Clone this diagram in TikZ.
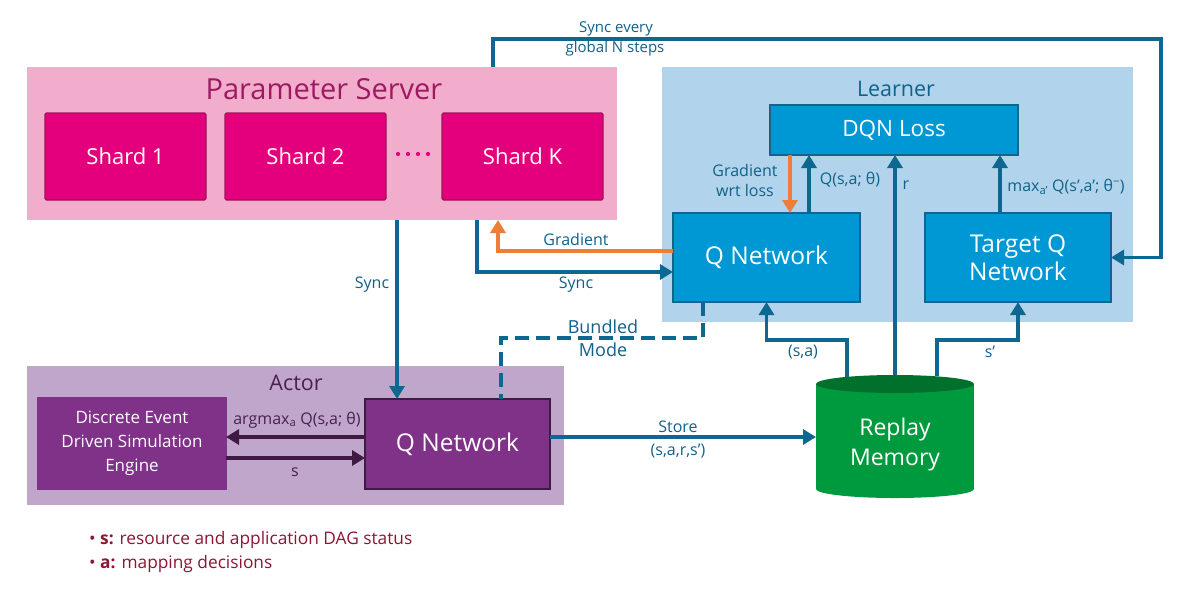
\documentclass[tikz,border=0pt]{standalone}
\usepackage{fontspec}
\setmainfont{Open Sans}
\usetikzlibrary{arrows.meta}
\definecolor{psbg}{RGB}{242,173,205}
\definecolor{shard}{RGB}{228,0,124}
\definecolor{sharddk}{RGB}{160,20,90}
\definecolor{pstitle}{RGB}{158,26,96}
\definecolor{lbg}{RGB}{178,211,236}
\definecolor{lbox}{RGB}{0,152,212}
\definecolor{lboxdk}{RGB}{20,100,140}
\definecolor{arrowteal}{RGB}{12,104,145}
\definecolor{ltitle}{RGB}{16,98,138}
\definecolor{orng}{RGB}{238,125,55}
\definecolor{abg}{RGB}{193,166,204}
\definecolor{abox}{RGB}{127,50,135}
\definecolor{aboxdk}{RGB}{62,26,68}
\definecolor{atitle}{RGB}{74,32,80}
\definecolor{grn}{RGB}{0,154,62}
\definecolor{grndk}{RGB}{0,112,44}
\definecolor{legred}{RGB}{140,22,52}
\newcommand\myfs[2]{\fontsize{#1}{#2}\selectfont}
\begin{document}
\begin{tikzpicture}[x=1pt,y=-1pt,
  grp/.style={inner sep=0, outer sep=0, draw=none},
  ibox/.style={inner sep=0, outer sep=0, line width=1.2pt, text=white, align=center},
  shardbox/.style={ibox, fill=shard, draw=sharddk, rounded corners=1.5pt, minimum width=161, minimum height=87, font=\myfs{22}{26}},
  lbbox/.style={ibox, fill=lbox, draw=lboxdk, font=\myfs{24.5}{28}},
  arr/.style={line width=3.5pt, draw=arrowteal, -{Triangle[length=13pt,width=15pt]}},
  oarr/.style={arr, draw=orng},
  parr/.style={line width=3.8pt, draw=aboxdk, -{Triangle[length=13pt,width=15pt]}},
  lbl/.style={text=ltitle, inner sep=0, font=\myfs{16}{20}, align=center},
  legtxt/.style={text=legred, inner sep=0, font=\myfs{17.3}{20}, anchor=base west}
]
\fill[white] (0,0) rectangle (1182,590);
\useasboundingbox (0,0) rectangle (1182,590);

% groups
\node[grp, fill=psbg, minimum width=590, minimum height=153] (ps) at (322,143.5) {};
\node[text=pstitle, font=\myfs{29}{33}, inner sep=0] (pst) at (324,89) {Parameter Server};
\node[grp, fill=lbg, minimum width=471, minimum height=255] (lg) at (897.5,194.5) {};
\node[text=ltitle, font=\myfs{21.5}{26}, inner sep=0] (lgt) at (896,89) {Learner};
\node[grp, fill=abg, minimum width=537, minimum height=139] (ag) at (295.5,435.5) {};
\node[text=atitle, font=\myfs{21.5}{26}, inner sep=0] (agt) at (296,383) {Actor};

% shards
\node[shardbox] (s1) at (125.5,156.5) {Shard 1};
\node[shardbox] (s2) at (305.5,156.5) {Shard 2};
\node[shardbox] (sk) at (522.5,156.5) {Shard K};
\foreach \dx in {398,408,418,428} \fill[shard] (\dx,154) circle (2.1);

% learner boxes
\node[lbbox, font=\myfs{22.5}{26}, minimum width=248, minimum height=50] (dqn) at (894,130) {DQN Loss};
\node[lbbox, minimum width=187, minimum height=89] (lq) at (766.5,257.5) {Q Network};
\node[lbbox, minimum width=186, minimum height=89] (tq) at (1018,257.5) {Target Q\\Network};

% actor boxes
\node[ibox, fill=abox, draw=abox, minimum width=188, minimum height=91, font=\myfs{17}{24}] (des) at (132,443.5) {Discrete Event\\Driven Simulation\\Engine};
\node[ibox, fill=abox, draw=aboxdk, line width=2pt, minimum width=185, minimum height=90, font=\myfs{24.5}{28}] (aq) at (457.5,444) {Q Network};

% replay memory cylinder
\node[grp, minimum width=158, minimum height=123] (rm) at (895,436.5) {};
\fill[grn] (816,384) rectangle (974,489);
\fill[grn] (895,489) ellipse [x radius=79, y radius=9];
\fill[grndk] (895,384) ellipse [x radius=79, y radius=9];
\node[ibox, font=\myfs{23}{30}] (rmt) at (895,445) {Replay\\Memory};

% routing coordinates
\coordinate (xa) at (397,0);
\coordinate (xb) at (477,0);
\coordinate (xc) at (498,0);
\coordinate (xd) at (493,0);
\coordinate (xe) at (790,0);
\coordinate (xf) at (809,0);
\coordinate (xg) at (895,0);
\coordinate (xh) at (1000,0);
\coordinate (xi) at (847,0);
\coordinate (xj) at (937,0);
\coordinate (xk) at (703,0);
\coordinate (xl) at (501,0);
\coordinate (ya) at (0,272);
\coordinate (yb) at (0,251);
\coordinate (yc) at (0,340);
\coordinate (yd) at (0,338);
\coordinate (ye) at (0,437);
\coordinate (yf) at (0,458);
\coordinate (ytop) at (1161,39);

% connectors
\draw[arr] (ps.north -| xd) |- (ytop) |- (tq.east);
\node[lbl, font=\myfs{15}{18}] (lsync1) at (616,29) {Sync every};
\node[lbl, font=\myfs{15}{18}] (lsync2) at (615,49) {global N steps};

\draw[arr] (ps.south -| xa) -- (aq.north -| xa);
\node[lbl] (lsync3) at (372,285) {Sync};

\draw[arr] (ps.south -| xb) |- (lq.west |- ya);
\node[lbl] (lsync4) at (576,285) {Sync};

\draw[oarr] (lq.west |- yb) -| (ps.south -| xc);
\node[lbl] (lgrad) at (576,239) {Gradient};

\draw[oarr] (dqn.south -| xe) -- (lq.north -| xe);
\node[lbl, font=\myfs{16}{20}] (lgrad2) at (745,180) {Gradient\\wrt loss};

\draw[arr] (lq.north -| xf) -- (dqn.south -| xf);
\node[lbl] (lq1) at (850,180) {Q(s,a; θ)};

\draw[arr] (rm.north -| xg) -- (dqn.south -| xg);
\node[lbl] (lr) at (906,185) {r};

\draw[arr] (tq.north -| xh) -- (dqn.south -| xh);
\node[lbl] (lmax) at (1066,187) {max\textsubscript{a’} Q(s’,a’; θ\textsuperscript{−})};

\draw[arr] ([yshift=-1.6pt]rm.north -| xi) |- (lq.south |- yc) -- (lq.south);
\node[lbl] (lsa) at (803,352) {(s,a)};

\draw[arr] ([yshift=-1.2pt]rm.north -| xj) |- (tq.south |- yc) -- (tq.south);
\node[lbl] (lsp) at (990,352) {s’};

\draw[line width=3.5pt, draw=arrowteal, dash pattern=on 14pt off 7pt] (lq.south -| xk) -- (xk |- yd) -| (aq.north -| xl);
\node[lbl, font=\myfs{18}{22}] (lb1) at (603,327) {Bundled};
\node[lbl, font=\myfs{18}{22}] (lb2) at (603,350) {Mode};

\draw[arr] (aq.east |- ye) -- (rm.west |- ye);
\node[lbl] (lst1) at (678,427) {Store};
\node[lbl] (lst2) at (678,451) {(s,a,r,s’)};

\draw[parr] (aq.west |- ye) -- (des.east |- ye);
\node[lbl, text=atitle] (lam) at (297,420) {argmax\textsubscript{a} Q(s,a; θ)};
\draw[parr] (des.east |- yf) -- (aq.west |- yf);
\node[lbl, text=atitle] (ls) at (295,472) {s};

% legend
\node[legtxt] (leg1) at (89,544) {• \textbf{s:} resource and application DAG status};
\node[legtxt] (leg2) at (89,568) {• \textbf{a:} mapping decisions};
\end{tikzpicture}
\end{document}
